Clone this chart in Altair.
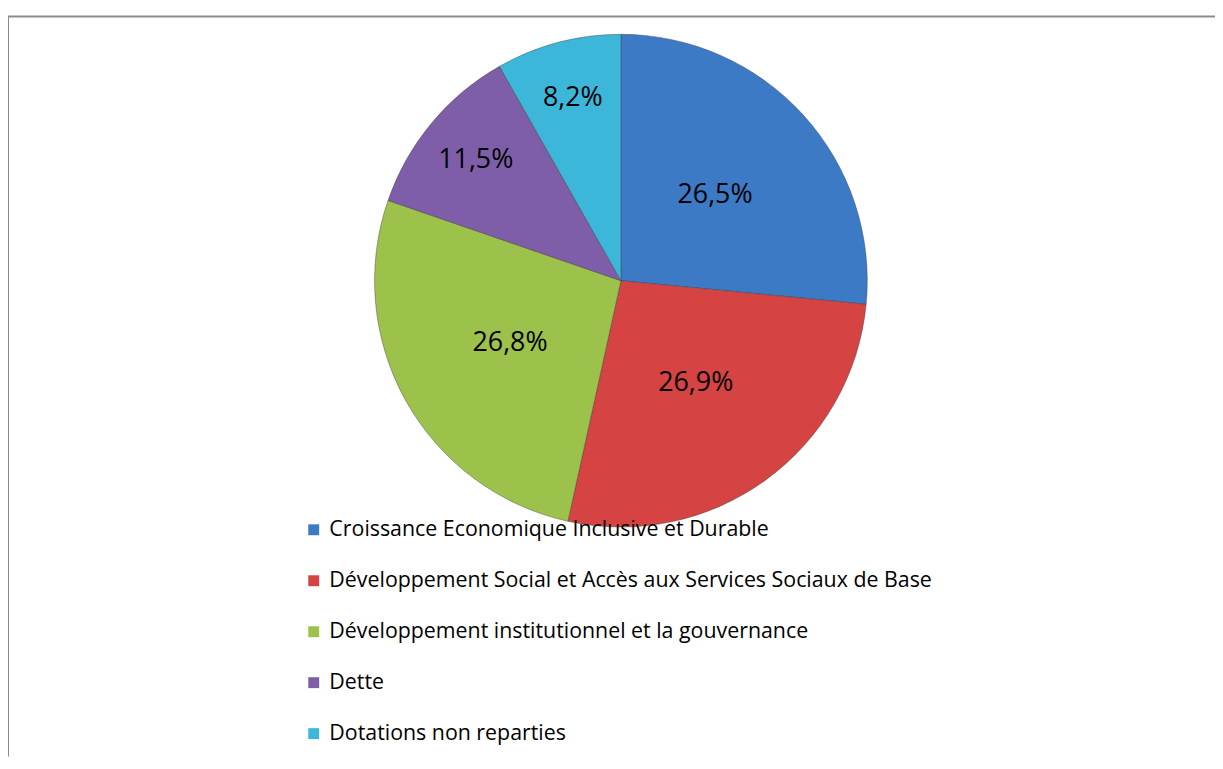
import altair as alt
import pandas as pd

categories = [
    "Croissance Economique Inclusive et Durable",
    "Développement Social et Accès aux Services Sociaux de Base",
    "Développement institutionnel et  la gouvernance",
    "Dette",
    "Dotations non reparties",
]
values = [26.5, 26.9, 26.8, 11.5, 8.2]
labels = ["26,5%", "26,9%", "26,8%", "11,5%", "8,2%"]
colors = ["#3D7AC6", "#D64343", "#9DC24C", "#7E5EA8", "#3CB7DA"]

df = pd.DataFrame({"cat": categories, "value": values, "label": labels, "idx": list(range(len(values)))})

W, H = 1215, 745
CX, CY = 617, 266
R = 248

base = alt.Chart(df).encode(
    theta=alt.Theta("value:Q", stack=True),
    order=alt.Order("idx:Q"),
)

pie = base.mark_arc(radius=R, stroke="#3a3a3a", strokeWidth=0.7, strokeOpacity=0.6).encode(
    x=alt.value(CX),
    y=alt.value(CY),
    color=alt.Color(
        "cat:N",
        scale=alt.Scale(domain=categories, range=colors),
        sort=categories,
        legend=alt.Legend(
            orient="none",
            legendX=297,
            legendY=506,
            title=None,
            symbolType="square",
            symbolSize=121,
            symbolStrokeWidth=0,
            labelFontSize=21.5,
            labelFont="Open Sans",
            labelColor="black",
            labelLimit=1000,
            labelOffset=5,
            rowPadding=28.3,
            padding=0,
        ),
    ),
)

text_big = base.mark_text(fontSize=27, font="Open Sans", color="black", radius=128).encode(
    x=alt.value(CX),
    y=alt.value(CY),
    text="tb:N",
).transform_calculate(tb="datum.value > 20 ? datum.label : ''")

text_small = base.mark_text(fontSize=27, font="Open Sans", color="black", radius=190).encode(
    x=alt.value(CX),
    y=alt.value(CY),
    text="ts:N",
).transform_calculate(ts="datum.value > 20 ? '' : datum.label")

frame_df = pd.DataFrame({"a": [0]})
top_rule = alt.Chart(frame_df).mark_rule(color="#8c8c8c", strokeWidth=2).encode(
    x=alt.value(0), x2=alt.value(W), y=alt.value(0)
)
left_rule = alt.Chart(frame_df).mark_rule(color="#8c8c8c", strokeWidth=2).encode(
    x=alt.value(0), y=alt.value(0), y2=alt.value(H)
)

chart = alt.layer(top_rule, left_rule, pie, text_big, text_small).properties(
    width=W,
    height=H,
    padding={"left": 0, "top": 6, "right": 0, "bottom": 0},
    autosize="none",
    background="white",
).configure_view(stroke=None)

chart.save("out.html", embed_options={"renderer": "svg", "actions": False})
